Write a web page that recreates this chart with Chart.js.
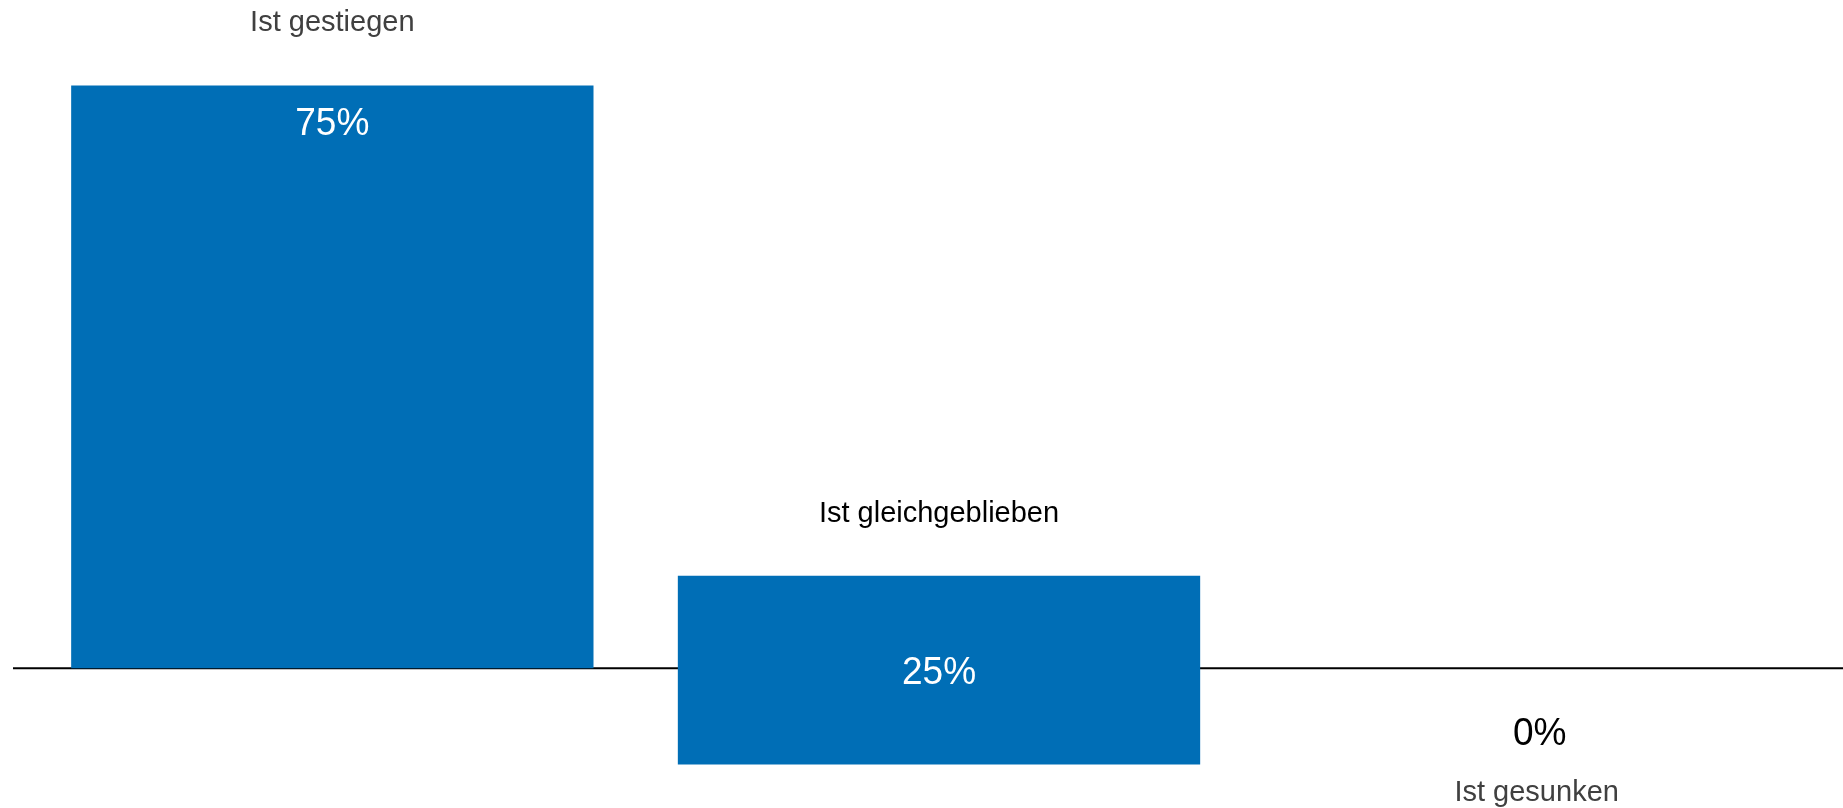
<!DOCTYPE html>
<html lang="de">
<head>
<meta charset="utf-8">
<script src="https://cdn.jsdelivr.net/npm/chart.js@4.4.0/dist/chart.umd.min.js"></script>
<style>
  html, body { margin: 0; padding: 0; background: #fff; overflow: hidden; }
  #wrap { width: 1849px; height: 808px; position: relative; }
</style>
</head>
<body>
<div id="wrap"><canvas id="chart"></canvas></div>
<script>
const KATEGORIEN = ["Ist gestiegen", "Ist gleichgeblieben", "Ist gesunken"];
const WERTE = [75, 25, 0];
// Position der Balken (von / bis)
const VON = [0, -12.4, 0];
const BIS = [75, 11.9, 0];

const BLAU = "#006eb6";

function text(ctx, s, x, y, px, farbe, sx) {
  ctx.save();
  ctx.font = px + "px 'Liberation Sans', Arial, sans-serif";
  ctx.fillStyle = farbe;
  ctx.translate(x, y);
  ctx.scale(sx, 1);
  ctx.fillText(s, 0, 0);
  ctx.restore();
}

// Nulllinie + Beschriftungen
const beschriftung = {
  id: "beschriftung",
  beforeDatasetsDraw(chart) {
    const ctx = chart.ctx;
    const y0 = chart.scales.y.getPixelForValue(0);
    ctx.save();
    ctx.strokeStyle = "#000";
    ctx.lineWidth = 2;
    ctx.beginPath();
    ctx.moveTo(13, y0);
    ctx.lineTo(chart.width, y0);
    ctx.stroke();
    ctx.restore();
  },
  afterDatasetsDraw(chart) {
    const ctx = chart.ctx;
    const y0 = chart.scales.y.getPixelForValue(0);
    const bars = chart.getDatasetMeta(0).data;
    ctx.save();
    ctx.textAlign = "center";
    ctx.textBaseline = "middle";
    bars.forEach((bar, i) => {
      const oben = Math.min(bar.y, bar.base);
      const unten = Math.max(bar.y, bar.base);
      const hoehe = unten - oben;
      let x = bar.x, yWert, yKat, farbeWert;
      if (hoehe < 1) {
        // leerer Balken: Beschriftung unter der Linie
        x -= 6;
        yWert = y0 + 66;
        yKat = y0 + 125;
        farbeWert = "#000";
      } else {
        yWert = hoehe > 250 ? oben + 39 : (oben + unten) / 2 + 3;
        yKat = oben - 62;
        farbeWert = "#fff";
      }
      text(ctx, WERTE[i] + "%", x, yWert, 39, farbeWert, 0.95);
      text(ctx, KATEGORIEN[i], x - (hoehe < 1 ? 3 : 0), yKat, 29, i === 1 ? "#000" : "#404040", 1);
    });
    ctx.restore();
  },
};

new Chart(document.getElementById("chart"), {
  type: "bar",
  data: {
    labels: KATEGORIEN,
    datasets: [
      {
        data: VON.map((v, i) => [v, BIS[i]]),
        backgroundColor: BLAU,
        borderWidth: 0,
        borderSkipped: false,
        categoryPercentage: 1,
        barPercentage: 0.861,
      },
    ],
  },
  options: {
    responsive: true,
    maintainAspectRatio: false,
    animation: false,
    layout: { padding: { left: 29, right: 0, top: 0, bottom: 0 } },
    plugins: {
      legend: { display: false },
      tooltip: { enabled: false },
    },
    scales: {
      x: { display: false },
      y: { display: false, min: -18, max: 86 },
    },
  },
  plugins: [beschriftung],
});
</script>
</body>
</html>
